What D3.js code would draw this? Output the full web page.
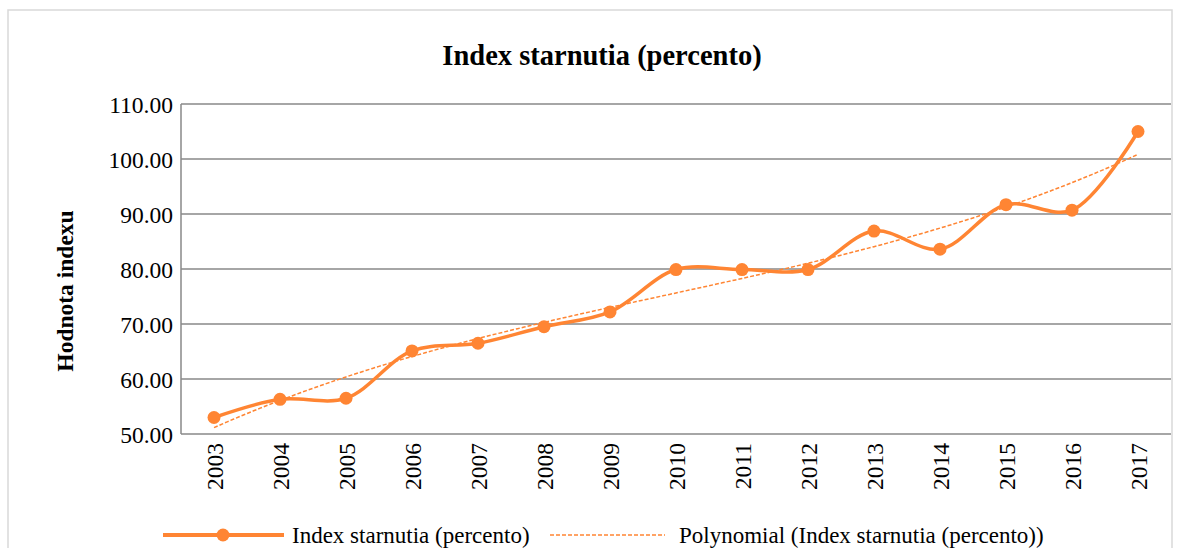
<!DOCTYPE html>
<html><head><meta charset="utf-8">
<script src="https://cdn.jsdelivr.net/npm/d3@7"></script>
<style>body{margin:0;background:#fff}svg{display:block}text{font-family:"Liberation Serif",serif;fill:#000}</style>
</head><body><svg id="c" width="1182" height="548"></svg>
<script>
const years = ["2003","2004","2005","2006","2007","2008","2009","2010","2011","2012","2013","2014","2015","2016","2017"];
const values = [53.0,56.3,56.5,65.1,66.5,69.5,72.2,79.9,79.9,79.9,86.9,83.6,91.7,90.7,105.0];
const yTicks = [50,60,70,80,90,100,110];
const title = "Index starnutia (percento)";
const yTitle = "Hodnota indexu";
const seriesName = "Index starnutia (percento)";
const trendName = "Polynomial (Index starnutia (percento))";
const trendOrder = 3;
const color = "#ff8533";

const svg = d3.select("#c");
svg.append("rect").attr("x",8).attr("y",10).attr("width",1164).attr("height",560)
  .attr("fill","#fff").attr("stroke","#d9d9d9").attr("stroke-width",1.5);

const x = d3.scaleBand().domain(years).range([181,1171]);
const y = d3.scaleLinear().domain([50,110]).range([434,104]);
const cx = d => x(d)+x.bandwidth()/2;

// gridlines
svg.append("g").selectAll("line").data(yTicks).join("line")
  .attr("x1",181).attr("x2",1171).attr("y1",d=>y(d)).attr("y2",d=>y(d))
  .attr("stroke","#898989").attr("stroke-width",1.5);
svg.append("line").attr("x1",181).attr("x2",181).attr("y1",104).attr("y2",434)
  .attr("stroke","#898989").attr("stroke-width",1.5);

// y axis labels
const ya = svg.append("g").attr("transform","translate(181,0)")
  .call(d3.axisLeft(y).tickValues(yTicks).tickFormat(d3.format(".2f")).tickSize(0).tickPadding(8));
ya.select(".domain").remove();
ya.selectAll("text").attr("font-size",23.5).attr("font-family","Liberation Serif").attr("dy","0.34em");

// x axis labels
const xa = svg.append("g").attr("transform","translate(0,434)")
  .call(d3.axisBottom(x).tickSize(0).tickPadding(0));
xa.select(".domain").remove();
xa.selectAll("text").attr("font-size",23.5).attr("font-family","Liberation Serif")
  .attr("transform","rotate(-90)").attr("x",-9).attr("y",1).attr("dy","0.34em").attr("text-anchor","end");

// polynomial trend (least squares)
const n = values.length;
const xs = values.map((v,i)=>i+1);
function polyfit(xs, ys, ord){
  const m = ord+1;
  const A = [];
  for(let r=0;r<m;r++){A.push([]);for(let c=0;c<m;c++){A[r].push(d3.sum(xs,xv=>Math.pow(xv,r+c)));}A[r].push(d3.sum(xs,(xv,i)=>ys[i]*Math.pow(xv,r)));}
  for(let i=0;i<m;i++){for(let j=i+1;j<m;j++){const f=A[j][i]/A[i][i];for(let k=i;k<=m;k++)A[j][k]-=f*A[i][k];}}
  const c=new Array(m).fill(0);
  for(let i=m-1;i>=0;i--){let s=A[i][m];for(let k=i+1;k<m;k++)s-=A[i][k]*c[k];c[i]=s/A[i][i];}
  return c;
}
const coef = polyfit(xs, values, trendOrder);
const pv = t => coef.reduce((s,c,k)=>s+c*Math.pow(t,k),0);
const tx = d3.scaleLinear().domain([1,n]).range([cx(years[0]),cx(years[n-1])]);
const trendPts = d3.range(1,n+0.001,0.1).map(t=>[tx(t), y(pv(t))]);
svg.append("path").attr("d",d3.line()(trendPts)).attr("fill","none")
  .attr("stroke",color).attr("stroke-width",1.5).attr("stroke-dasharray","4,2");

// series
const line = d3.line().x((d,i)=>cx(years[i])).y(d=>y(d)).curve(d3.curveCatmullRom.alpha(0.5));
svg.append("path").attr("d",line(values)).attr("fill","none").attr("stroke",color).attr("stroke-width",3.5);
svg.append("g").selectAll("circle").data(values).join("circle")
  .attr("cx",(d,i)=>cx(years[i])).attr("cy",d=>y(d)).attr("r",6.5).attr("fill",color);

// title
svg.append("text").attr("x",602).attr("y",65).attr("text-anchor","middle")
  .attr("font-size",28.5).attr("font-weight","bold").text(title);
svg.append("text").attr("transform","translate(73,291) rotate(-90)").attr("text-anchor","middle")
  .attr("font-size",23.5).attr("font-weight","bold").text(yTitle);

// legend
const lg = svg.append("g");
lg.append("line").attr("x1",163).attr("x2",284).attr("y1",535).attr("y2",535).attr("stroke",color).attr("stroke-width",4);
lg.append("circle").attr("cx",223).attr("cy",535).attr("r",6.5).attr("fill",color);
lg.append("text").attr("x",292).attr("y",543).attr("font-size",23).text(seriesName);
lg.append("line").attr("x1",550).attr("x2",665).attr("y1",535).attr("y2",535).attr("stroke",color).attr("stroke-width",1.5).attr("stroke-dasharray","4,2");
lg.append("text").attr("x",679).attr("y",543).attr("font-size",23).text(trendName);
</script></body></html>
